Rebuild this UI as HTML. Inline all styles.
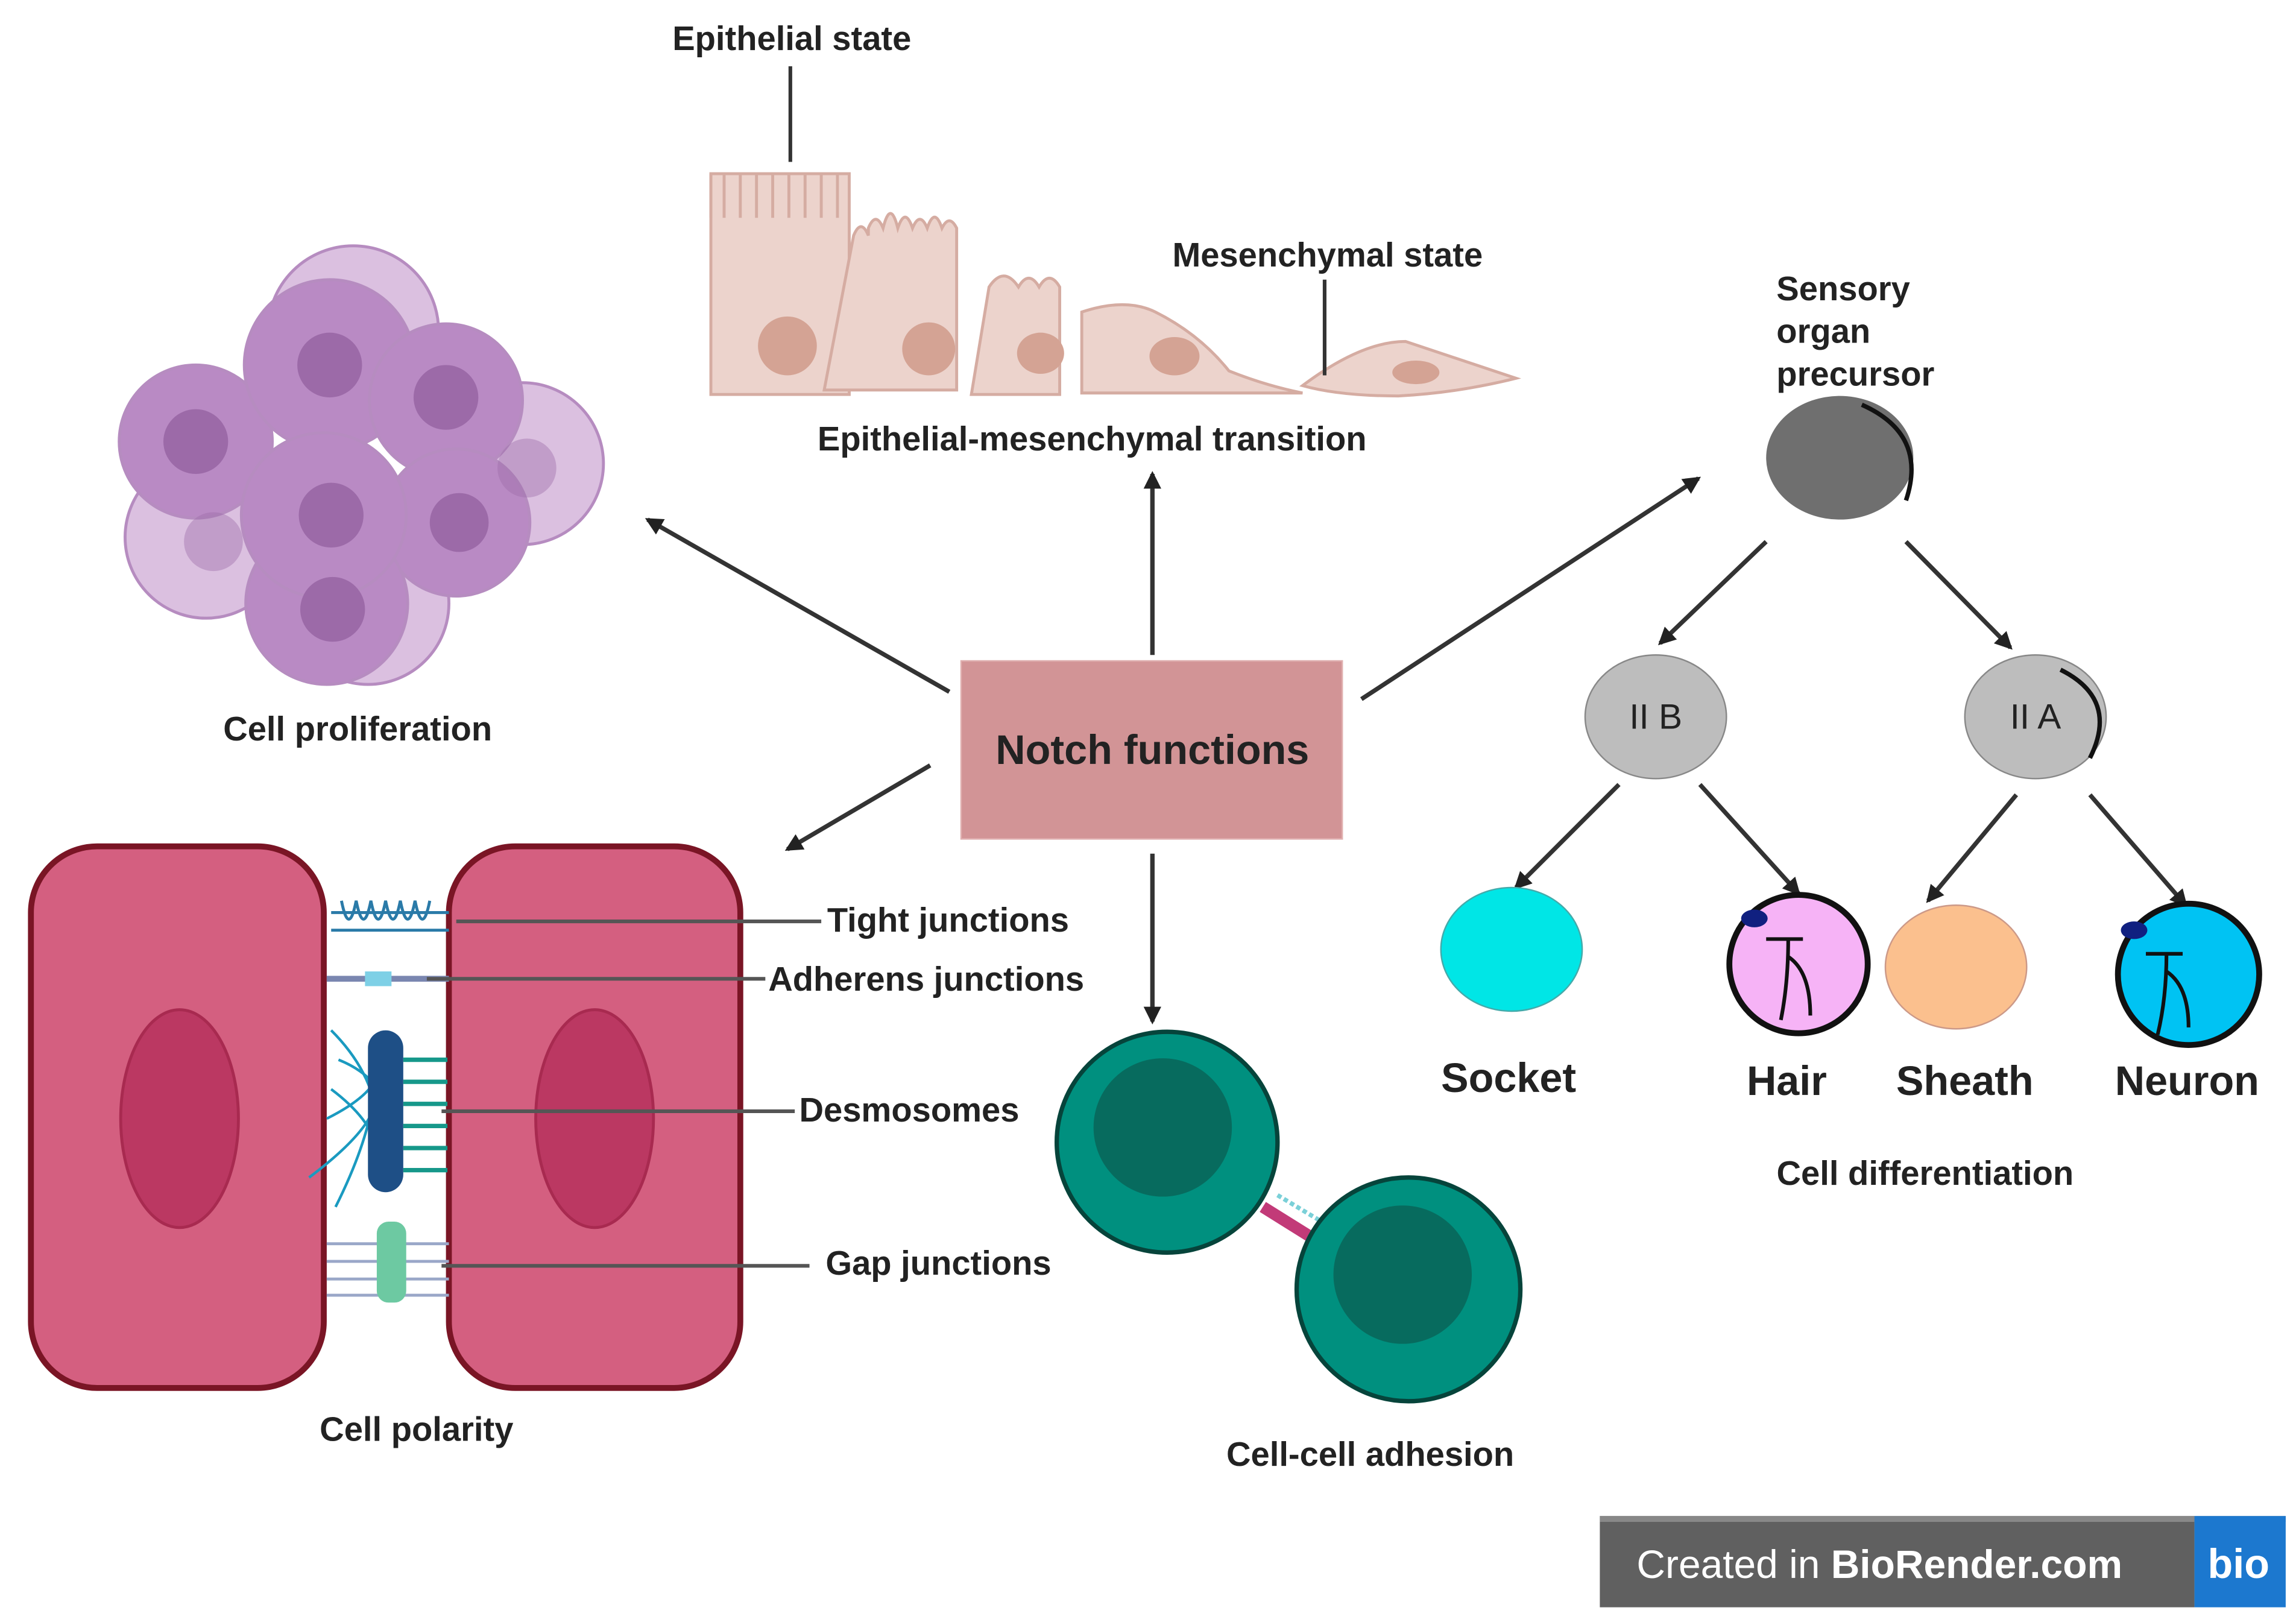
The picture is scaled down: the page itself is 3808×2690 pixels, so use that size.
<!DOCTYPE html>
<html><head><meta charset="utf-8"><style>
html,body{margin:0;padding:0;background:#fff;}
svg{display:block;}
text{font-family:"Liberation Sans",sans-serif;fill:#222;}
</style></head><body>
<svg width="3808" height="2690" viewBox="0 0 1560 1102" preserveAspectRatio="none" xmlns="http://www.w3.org/2000/svg">
<defs>
<marker id="ah" markerWidth="8" markerHeight="8" refX="7" refY="4" orient="auto" markerUnits="userSpaceOnUse" viewBox="0 0 8 8"><path d="M0,0 L8,4 L0,8 z" fill="#222"/></marker>
<marker id="ah2" markerWidth="12" markerHeight="12" refX="10" refY="6" orient="auto" markerUnits="userSpaceOnUse" viewBox="0 0 12 12"><path d="M0,0 L12,6 L0,12 z" fill="#222"/></marker>
</defs>
<rect width="1560" height="1102" fill="#fff"/>

<!-- Cell proliferation -->
<g stroke="#b68cc0" stroke-width="2">
<circle cx="240" cy="225" r="58" fill="#dbc0e0"/>
<circle cx="355" cy="315" r="55" fill="#dbc0e0"/>
<circle cx="140" cy="365" r="55" fill="#dbc0e0"/>
<circle cx="250" cy="410" r="55" fill="#dbc0e0"/>
<circle cx="133" cy="300" r="52" fill="#b98ac4"/>
<circle cx="224" cy="248" r="58" fill="#b98ac4"/>
<circle cx="303" cy="272" r="52" fill="#b98ac4"/>
<circle cx="310" cy="355" r="50" fill="#b98ac4"/>
<circle cx="222" cy="410" r="55" fill="#b98ac4"/>
<circle cx="220" cy="350" r="56" fill="#b98ac4"/>
</g>
<g fill="#9c6aa8">
<circle cx="133" cy="300" r="22"/><circle cx="224" cy="248" r="22"/><circle cx="303" cy="270" r="22"/>
<circle cx="312" cy="355" r="20"/><circle cx="226" cy="414" r="22"/><circle cx="225" cy="350" r="22"/>
<circle cx="358" cy="318" r="20" opacity="0.4"/><circle cx="145" cy="368" r="20" opacity="0.4"/>
</g>
<text x="243" y="503" font-size="23" font-weight="bold" text-anchor="middle">Cell proliferation</text>

<!-- EMT -->
<g fill="#ecd3cc" stroke="#d5aca2" stroke-width="2">
<path d="M483,118 h94 v150 h-94 z"/>
<path d="M483,118 v30 M492,118 v30 M503,118 v30 M514,118 v30 M525,118 v30 M536,118 v30 M547,118 v30 M558,118 v30 M569,118 v30" fill="none"/>
<path d="M580,160 q5,-12 10,0 v-5 q5,-12 10,0 q5,-20 10,0 q5,-15 10,0 q5,-12 10,0 q5,-15 10,0 q5,-10 10,0 v110 h-90 z"/>
<path d="M672,195 q10,-15 20,0 q7,-12 14,0 q7,-12 14,0 v73 h-60 z"/>
<path d="M735,212 q30,-10 50,0 q30,15 50,40 q25,10 50,15 h-150 z"/>
<path d="M885,262 q40,-30 70,-30 q30,10 75,25 q-40,10 -80,12 q-40,0 -65,-7 z"/>
</g>
<g fill="#d4a394">
<ellipse cx="535" cy="235" rx="20" ry="20"/><ellipse cx="631" cy="237" rx="18" ry="18"/>
<ellipse cx="707" cy="240" rx="16" ry="14"/><ellipse cx="798" cy="242" rx="17" ry="13"/><ellipse cx="962" cy="253" rx="16" ry="8"/>
</g>
<line x1="537" y1="45" x2="537" y2="110" stroke="#333" stroke-width="2.5"/>
<line x1="900" y1="190" x2="900" y2="255" stroke="#333" stroke-width="2.5"/>
<text x="538" y="34" font-size="23" font-weight="bold" text-anchor="middle">Epithelial state</text>
<text x="902" y="181" font-size="23" font-weight="bold" text-anchor="middle">Mesenchymal state</text>
<text x="742" y="306" font-size="23" font-weight="bold" text-anchor="middle">Epithelial-mesenchymal transition</text>

<!-- Notch box -->
<rect x="653" y="449" width="259" height="121" fill="#d29496" stroke="#e0b0b0" stroke-width="1"/>
<text x="783" y="519" font-size="28" font-weight="bold" text-anchor="middle">Notch functions</text>

<!-- arrows -->
<g stroke="#333" stroke-width="3" fill="none">
<line x1="645" y1="470" x2="440" y2="353" marker-end="url(#ah2)"/>
<line x1="783" y1="445" x2="783" y2="322" marker-end="url(#ah2)"/>
<line x1="925" y1="475" x2="1154" y2="325" marker-end="url(#ah2)"/>
<line x1="632" y1="520" x2="535" y2="577" marker-end="url(#ah2)"/>
<line x1="783" y1="580" x2="783" y2="694" marker-end="url(#ah2)"/>
<line x1="1200" y1="368" x2="1128" y2="437" marker-end="url(#ah2)"/>
<line x1="1295" y1="368" x2="1366" y2="440" marker-end="url(#ah2)"/>
<line x1="1100" y1="533" x2="1030" y2="603" marker-end="url(#ah2)"/>
<line x1="1155" y1="533" x2="1222" y2="607" marker-end="url(#ah2)"/>
<line x1="1370" y1="540" x2="1310" y2="612" marker-end="url(#ah2)"/>
<line x1="1420" y1="540" x2="1485" y2="615" marker-end="url(#ah2)"/>
</g>

<!-- Sensory organ -->
<text font-size="23" font-weight="bold"><tspan x="1207" y="204">Sensory</tspan><tspan x="1207" y="233">organ</tspan><tspan x="1207" y="262">precursor</tspan></text>
<ellipse cx="1250" cy="311" rx="50" ry="42" fill="#6f6f6f"/>
<path d="M1265,275 q45,20 30,65" stroke="#111" stroke-width="3" fill="none"/>
<ellipse cx="1125" cy="487" rx="48" ry="42" fill="#bdbdbd" stroke="#888" stroke-width="1"/>
<ellipse cx="1383" cy="487" rx="48" ry="42" fill="#bdbdbd" stroke="#888" stroke-width="1"/>
<path d="M1400,455 q40,20 20,60" stroke="#111" stroke-width="3" fill="none"/>
<text x="1125" y="495" font-size="24" text-anchor="middle" fill="#444">II B</text>
<text x="1383" y="495" font-size="24" text-anchor="middle" fill="#444">II A</text>

<ellipse cx="1027" cy="645" rx="48" ry="42" fill="#00e6e6" stroke="#4aa" stroke-width="1"/>
<circle cx="1222" cy="655" r="47" fill="#f6b3f6" stroke="#111" stroke-width="4"/>
<ellipse cx="1192" cy="624" rx="9" ry="6" fill="#102080"/>
<path d="M1200,638 h25 M1215,638 q0,30 -5,55 M1215,650 q15,10 15,40" stroke="#111" stroke-width="2.5" fill="none"/>
<ellipse cx="1329" cy="657" rx="48" ry="42" fill="#fbc08e" stroke="#c98" stroke-width="1"/>
<circle cx="1487" cy="662" r="48" fill="#00c3f3" stroke="#111" stroke-width="4"/>
<ellipse cx="1450" cy="632" rx="9" ry="6" fill="#102080"/>
<path d="M1458,648 h25 M1472,648 q0,30 -6,55 M1472,660 q15,10 15,38" stroke="#111" stroke-width="2.5" fill="none"/>
<text x="1025" y="742" font-size="28" font-weight="bold" text-anchor="middle">Socket</text>
<text x="1214" y="744" font-size="28" font-weight="bold" text-anchor="middle">Hair</text>
<text x="1335" y="744" font-size="28" font-weight="bold" text-anchor="middle">Sheath</text>
<text x="1486" y="744" font-size="28" font-weight="bold" text-anchor="middle">Neuron</text>
<text x="1308" y="805" font-size="23" font-weight="bold" text-anchor="middle">Cell differentiation</text>

<!-- Cell polarity -->
<rect x="21" y="575" width="199" height="368" rx="45" fill="#d45f80" stroke="#7a1525" stroke-width="4"/>
<rect x="305" y="575" width="198" height="368" rx="45" fill="#d45f80" stroke="#7a1525" stroke-width="4"/>
<ellipse cx="122" cy="760" rx="40" ry="74" fill="#bb3862" stroke="#a82a50" stroke-width="2"/>
<ellipse cx="404" cy="760" rx="40" ry="74" fill="#bb3862" stroke="#a82a50" stroke-width="2"/>
<g stroke="#2a7aa8" stroke-width="2" fill="none">
<path d="M232,612 q5,25 10,0 q5,25 10,0 q5,25 10,0 q5,25 10,0 q5,25 10,0 q5,25 10,0"/>
<line x1="225" y1="620" x2="305" y2="620"/><line x1="225" y1="632" x2="305" y2="632"/>
</g>
<line x1="222" y1="665" x2="305" y2="665" stroke="#7a86b0" stroke-width="4"/>
<rect x="248" y="660" width="18" height="10" fill="#7ed0e6"/>
<g stroke="#1a9ac0" stroke-width="1.8" fill="none">
<path d="M225,700 q40,40 30,90"/><path d="M230,720 q50,20 25,80"/><path d="M222,760 q40,-20 35,-40"/><path d="M210,800 q40,-30 45,-50"/><path d="M228,820 q20,-40 25,-70"/><path d="M225,740 q40,30 30,60"/>
</g>
<rect x="250" y="700" width="24" height="110" rx="12" fill="#1e4f86"/>
<g stroke="#16988a" stroke-width="3"><line x1="274" y1="720" x2="304" y2="720"/><line x1="274" y1="735" x2="304" y2="735"/><line x1="274" y1="750" x2="304" y2="750"/><line x1="274" y1="765" x2="304" y2="765"/><line x1="274" y1="780" x2="304" y2="780"/><line x1="274" y1="795" x2="304" y2="795"/></g>
<g stroke="#9aa7c8" stroke-width="2"><line x1="222" y1="845" x2="305" y2="845"/><line x1="222" y1="857" x2="305" y2="857"/><line x1="222" y1="869" x2="305" y2="869"/><line x1="222" y1="880" x2="305" y2="880"/></g>
<rect x="256" y="830" width="20" height="55" rx="8" fill="#6dc9a2"/>
<g stroke="#555" stroke-width="2.5">
<line x1="310" y1="626" x2="558" y2="626"/>
<line x1="290" y1="665" x2="520" y2="665"/>
<line x1="300" y1="755" x2="540" y2="755"/>
<line x1="300" y1="860" x2="550" y2="860"/>
</g>
<text x="562" y="633" font-size="23" font-weight="bold">Tight junctions</text>
<text x="522" y="673" font-size="23" font-weight="bold">Adherens junctions</text>
<text x="543" y="762" font-size="23" font-weight="bold">Desmosomes</text>
<text x="561" y="866" font-size="23" font-weight="bold">Gap junctions</text>
<text x="283" y="979" font-size="23" font-weight="bold" text-anchor="middle">Cell polarity</text>

<!-- Cell-cell adhesion -->
<line x1="858" y1="820" x2="890" y2="840" stroke="#c23a78" stroke-width="8"/>
<line x1="868" y1="812" x2="898" y2="830" stroke="#7ad0d8" stroke-width="3" stroke-dasharray="3,2"/>
<circle cx="793" cy="776" r="75" fill="#00907f" stroke="#06443b" stroke-width="3"/>
<circle cx="790" cy="766" r="47" fill="#076b5e"/>
<circle cx="957" cy="876" r="76" fill="#00907f" stroke="#06443b" stroke-width="3"/>
<circle cx="953" cy="866" r="47" fill="#076b5e"/>
<text x="931" y="996" font-size="23" font-weight="bold" text-anchor="middle">Cell-cell adhesion</text>

<!-- BioRender badge -->
<rect x="1087" y="1030" width="404" height="62" fill="#606060"/>
<rect x="1087" y="1030" width="466" height="4" fill="#888"/>
<rect x="1491" y="1030" width="62" height="62" fill="#1c78cf"/>
<text x="1112" y="1072" font-size="27" fill="#fff" style="fill:#fff">Created in <tspan font-weight="bold">BioRender.com</tspan></text>
<text x="1521" y="1072" font-size="28" font-weight="bold" text-anchor="middle" style="fill:#fff">bio</text>
</svg>
</body></html>
